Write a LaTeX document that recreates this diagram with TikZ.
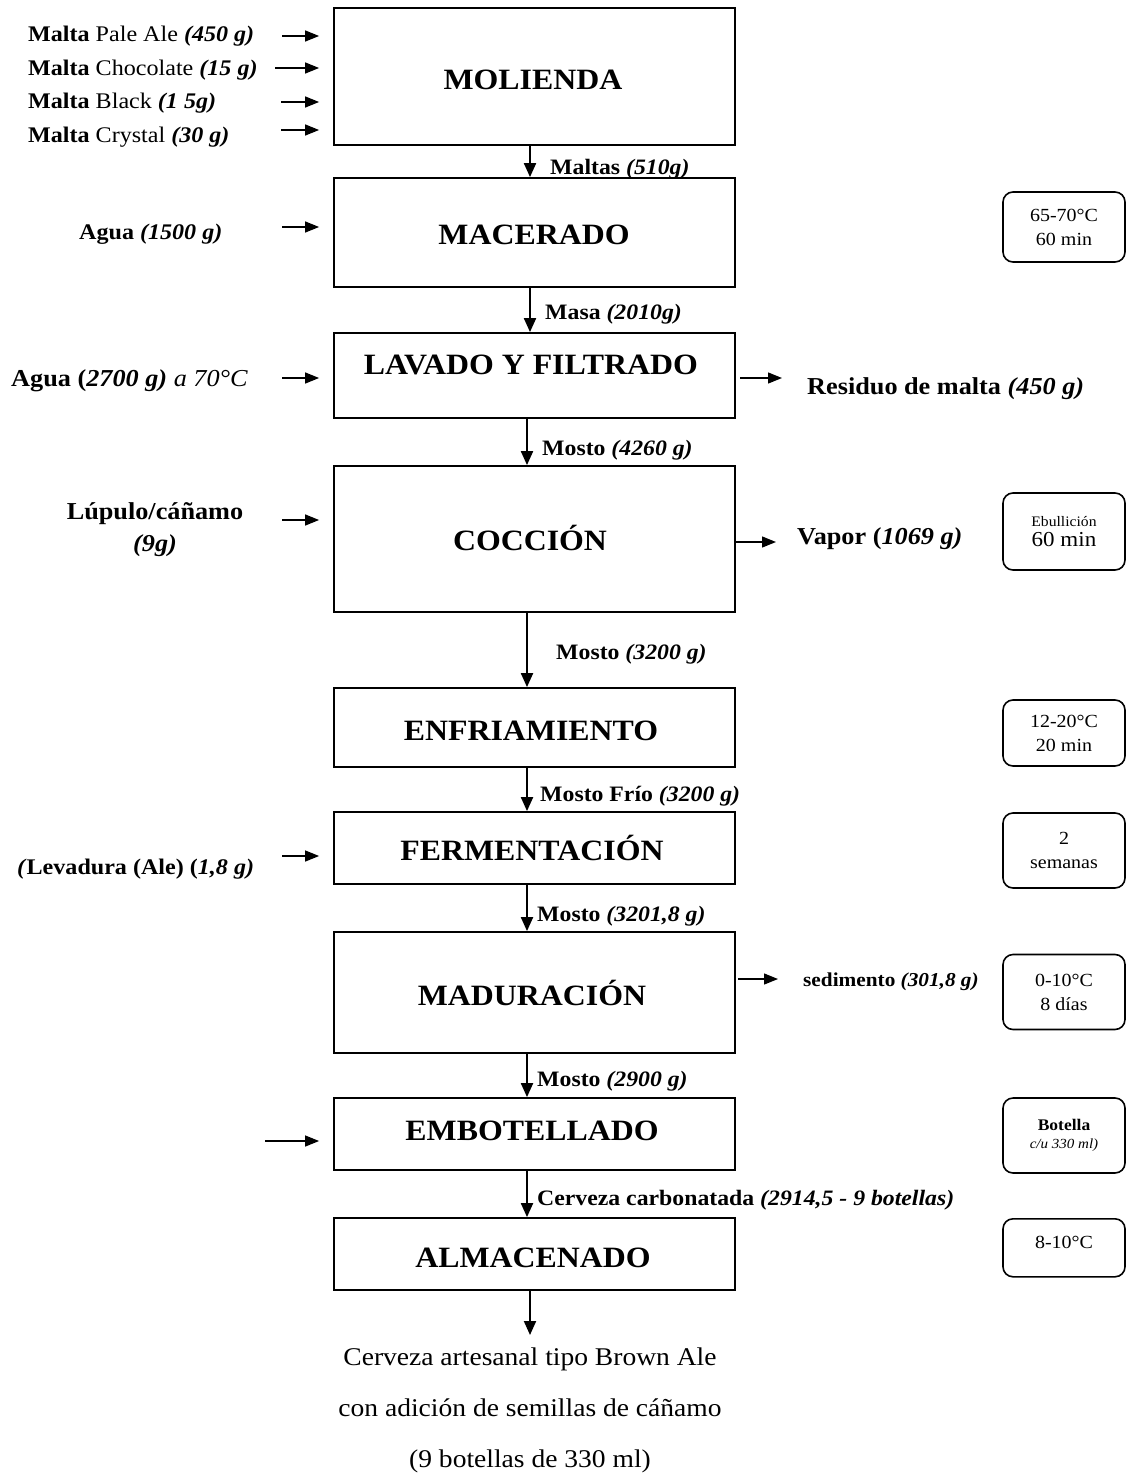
\documentclass[tikz,border=0pt]{standalone}
\usepackage{fontspec}
\setmainfont{Liberation Serif}[FakeStretch=1.08]
\usetikzlibrary{arrows.meta,calc}
\begin{document}
\begin{tikzpicture}[x=1pt,y=-1pt,
 arr/.style={-{Triangle[length=14pt,width=11pt]}, line width=1.3pt},
 varr/.style={-{Triangle[length=14pt,width=12pt]}, line width=2pt},
 procbox/.style={draw, line width=1.8pt, minimum width=401pt, inner sep=0pt},
 proctext/.style={anchor=base, inner sep=0pt, font=\fontsize{29.5}{34}\selectfont\bfseries},
 condbox/.style={draw, line width=1.6pt, rounded corners=10pt, minimum width=122pt, inner sep=0pt, align=center, font=\fontsize{18.5}{24}\selectfont},
 inlab/.style={anchor=base west, inner sep=0pt, font=\fontsize{22.3}{26}\selectfont},
 flowlab/.style={anchor=base west, inner sep=0pt, font=\fontsize{22}{26}\selectfont},
 outlab/.style={anchor=base west, inner sep=0pt, font=\fontsize{24.3}{28}\selectfont},
]
\fill[white] (0,0) rectangle (1128,1474);
\useasboundingbox (0,0) rectangle (1128,1474);

% process boxes
\node[procbox, minimum height=137pt] (b1) at (534.5,76.5) {};
\node[procbox, minimum height=109pt] (b2) at (534.5,232.5) {};
\node[procbox, minimum height=85pt]  (b3) at (534.5,375.5) {};
\node[procbox, minimum height=146pt] (b4) at (534.5,539) {};
\node[procbox, minimum height=79pt]  (b5) at (534.5,727.5) {};
\node[procbox, minimum height=72pt]  (b6) at (534.5,848) {};
\node[procbox, minimum height=121pt] (b7) at (534.5,992.5) {};
\node[procbox, minimum height=72pt]  (b8) at (534.5,1134) {};
\node[procbox, minimum height=72pt]  (b9) at (534.5,1254) {};

\node[proctext] (t1) at (533,90) {MOLIENDA};
\node[proctext] (t2) at (534,244) {MACERADO};
\node[proctext] (t3) at (531,374) {LAVADO Y FILTRADO};
\node[proctext] (t4) at (530,550) {COCCIÓN};
\node[proctext] (t5) at (531,740) {ENFRIAMIENTO};
\node[proctext] (t6) at (532,860) {FERMENTACIÓN};
\node[proctext] (t7) at (532,1005) {MADURACIÓN};
\node[proctext] (t8) at (532,1140) {EMBOTELLADO};
\node[proctext] (t9) at (533,1267) {ALMACENADO};

% main flow
\coordinate (colA) at (530,0);
\coordinate (colB) at (527,0);
\draw[varr] (b1.south -| colA) -- (b2.north -| colA);
\draw[varr] (b2.south -| colA) -- (b3.north -| colA);
\draw[varr] (b3.south -| colB) -- (b4.north -| colB);
\draw[varr] (b4.south -| colB) -- (b5.north -| colB);
\draw[varr] (b5.south -| colB) -- (b6.north -| colB);
\draw[varr] (b6.south -| colB) -- (b7.north -| colB);
\draw[varr] (b7.south -| colB) -- (b8.north -| colB);
\draw[varr] (b8.south -| colB) -- (b9.north -| colB);
\coordinate (endp) at (530,1335);
\draw[varr] (b9.south -| endp) -- (endp);

% flow labels
\node[flowlab] (f1) at (550,175) {\textbf{Maltas \textit{(510g)}}};
\node[flowlab] (f2) at (545,319) {\textbf{Masa \textit{(2010g)}}};
\node[flowlab] (f3) at (542,455) {\textbf{Mosto \textit{(4260 g)}}};
\node[flowlab] (f4) at (556,659) {\textbf{Mosto \textit{(3200 g)}}};
\node[flowlab] (f5) at (540,801) {\textbf{Mosto Frío \textit{(3200 g)}}};
\node[flowlab] (f6) at (537,921) {\textbf{Mosto \textit{(3201,8 g)}}};
\node[flowlab] (f7) at (537,1086) {\textbf{Mosto \textit{(2900 g)}}};
\node[flowlab] (f8) at (537,1205) {\textbf{Cerveza carbonatada \textit{(2914,5 - 9 botellas)}}};

% left inputs
\node[inlab] (i1) at (28,42) {\textbf{Malta} Pale Ale \textbf{\textit{(450 g)}}};
\node[inlab] (i2) at (28,76) {\textbf{Malta} Chocolate \textbf{\textit{(15 g)}}};
\node[inlab] (i3) at (28,109) {\textbf{Malta} Black \textbf{\textit{(1 5g)}}};
\node[inlab] (i4) at (28,143) {\textbf{Malta} Crystal \textbf{\textit{(30 g)}}};
\node[inlab] (i5) at (79,239) {\textbf{Agua \textit{(1500 g)}}};
\node[inlab, font=\fontsize{24.3}{28}\selectfont] (i6) at (11,386) {\textbf{Agua (\textit{2700 g)}} \textit{a 70°C}};
\node[anchor=base, inner sep=0pt, align=center, font=\fontsize{24.3}{32}\selectfont] (i7) at (155,551) {\textbf{Lúpulo/cáñamo}\\\textbf{\textit{(9g)}}};
\node[inlab] (i8) at (17,874) {\textbf{\textit{(}Levadura (Ale) (\textit{1,8 g)}}};

\coordinate (la1) at (282,36);
\coordinate (la2) at (275,68);
\coordinate (la3) at (281,102);
\coordinate (la4) at (281,130);
\coordinate (la5) at (282,227);
\coordinate (la6) at (282,378);
\coordinate (la7) at (282,520);
\coordinate (la8) at (282,856);
\coordinate (la9) at (265,1141);
\foreach \c/\b in {la1/b1,la2/b1,la3/b1,la4/b1,la5/b2,la6/b3,la7/b4,la8/b6,la9/b8}
  \draw[arr, shorten >=14pt] (\c) -- (\c -| \b.west);

% right outputs
\coordinate (ra1) at (740,378);
\coordinate (ra2) at (736,542);
\coordinate (ra3) at (738,979);
\draw[arr] (ra1) -- ($(ra1)+(42,0)$);
\draw[arr] (ra2) -- ($(ra2)+(40,0)$);
\draw[arr] (ra3) -- ($(ra3)+(40,0)$);
\node[outlab] (o1) at (807,394) {\textbf{Residuo de malta \textit{(450 g)}}};
\node[outlab] (o2) at (797,544) {\textbf{Vapor (\textit{1069 g)}}};
\node[outlab, font=\fontsize{19.7}{23}\selectfont] (o3) at (803,986) {\textbf{sedimento \textit{(301,8 g)}}};

% condition boxes
\node[condbox, minimum height=70pt] (c1) at (1064,227) {65-70°C\\60 min};
\node[condbox, minimum height=77pt] (c2) at (1064,531.5) {{\fontsize{14.5}{16}\selectfont Ebullición}\\[-4pt]{\fontsize{21.3}{24}\selectfont 60 min}};
\node[condbox, minimum height=66pt] (c3) at (1064,733) {12-20°C\\20 min};
\node[condbox, minimum height=75pt] (c4) at (1064,850.5) {2\\semanas};
\node[condbox, minimum height=75pt] (c5) at (1064,992) {0-10°C\\8 días};
\node[condbox, minimum height=75pt] (c6) at (1064,1135.5) {{\fontsize{16.2}{19}\selectfont\bfseries Botella}\\[-6pt]{\fontsize{13.9}{16}\selectfont\itshape c/u 330 ml)}};
\node[condbox, minimum height=58pt, anchor=north] (c7) at (1064,1218) {};
\node[anchor=base, inner sep=0pt, font=\fontsize{18.5}{22}\selectfont] (c7t) at (1064,1248) {8-10°C};

% final product
\node[anchor=base, inner sep=0pt, align=center, font=\fontsize{25.5}{51}\selectfont] (prod) at (530,1467) {Cerveza artesanal tipo Brown Ale\\con adición de semillas de cáñamo\\(9 botellas de 330 ml)};
\end{tikzpicture}
\end{document}
